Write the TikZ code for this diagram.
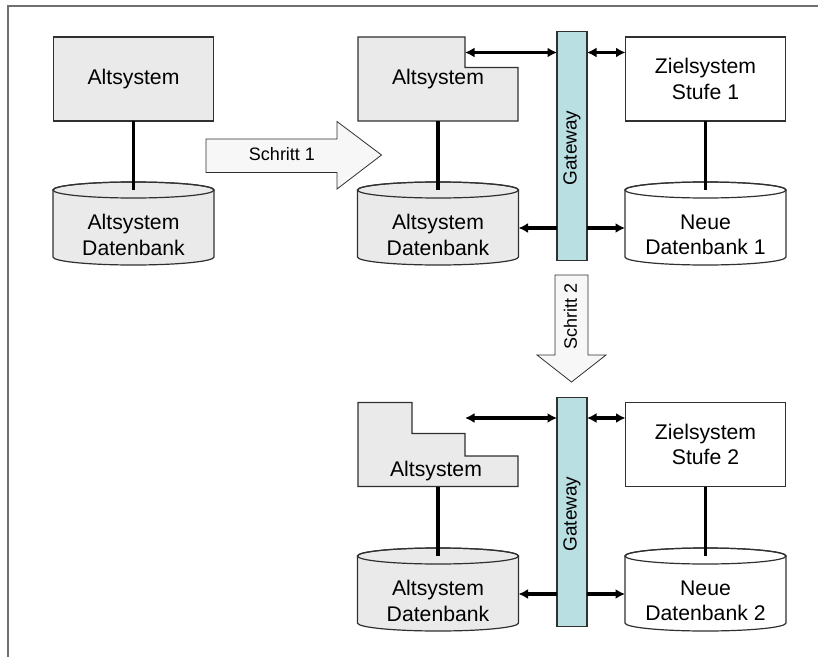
\documentclass[tikz,border=0pt]{standalone}
\usepackage{fontspec}
\setmainfont{Liberation Sans}
\usetikzlibrary{arrows.meta}

\definecolor{legacy}{HTML}{EAEAEA}
\definecolor{gatefill}{HTML}{B9DFE2}
\definecolor{stepfill}{HTML}{F7F7F7}
\definecolor{edge}{HTML}{303030}
\definecolor{framegray}{HTML}{707070}

\newcommand{\diagfont}{\fontsize{21.2bp}{25.5bp}\selectfont}
\newcommand{\stepfont}{\fontsize{18bp}{21bp}\selectfont}
\newcommand{\gatefont}{\fontsize{19bp}{22bp}\selectfont}

% database drum: name, centre x, top y, fill, text
\newcommand{\drum}[5]{%
  \filldraw[drumline, fill=#4]
    ({#2-80.5},{#3+8}) -- ({#2-80.5},{#3+75})
    arc[start angle=180, end angle=0, x radius=80.5, y radius=8]
    -- ({#2+80.5},{#3+8})
    arc[start angle=0, end angle=-180, x radius=80.5, y radius=8] -- cycle;
  \draw[drumline] ({#2},{#3+8}) ellipse[x radius=80.5, y radius=8];
  \coordinate (#1-top) at ({#2},{#3+8});
  \node[drumtext] (#1) at ({#2},{#3+53}) {#5};
}

\tikzset{
  sysbox/.style={draw=edge, line width=1.2bp, minimum width=160bp, minimum height=84bp,
    inner sep=0pt, outer sep=0pt, align=center, font=\diagfont},
  shapebox/.style={minimum width=160bp, minimum height=84bp, inner sep=0pt, outer sep=0pt},
  drumline/.style={draw=edge, line width=1.2bp},
  drumtext/.style={minimum width=161bp, minimum height=58bp, inner sep=0pt, outer sep=0pt,
    align=center, font=\diagfont},
  gatebox/.style={draw=edge, line width=1.2bp, fill=gatefill, minimum width=30bp,
    minimum height=229bp, inner sep=0pt, outer sep=0pt},
  stepshape/.style={draw=edge, line width=0.8bp, fill=stepfill},
  link/.style={line width=3.2bp},
  both/.style={line width=3.2bp, {Latex[length=9.5bp,width=10bp]}-{Latex[length=9.5bp,width=10bp]}},
  toward/.style={line width=3.2bp, -{Latex[length=9.5bp,width=10bp]}},
}

\begin{document}
\begin{tikzpicture}[x=1bp, y=-1bp]
\useasboundingbox (0,0) rectangle (818,657);

% outer frame
\draw[framegray, line width=2bp] (7.5,657) -- (7.5,6.5) -- (818,6.5);

% ---------- initial situation ----------
\node[sysbox, fill=legacy] (old0) at (133.5,79) {Altsystem};
\drum{olddb0}{133.5}{182}{legacy}{Altsystem\\Datenbank}
\draw[link] (old0.south) -- (olddb0-top);

% step 1 arrow
\filldraw[stepshape] (206,139) -- (337,139) -- (337,121.5) -- (381.5,155)
  -- (337,189) -- (337,172.5) -- (206,172.5) -- cycle;
\node[font=\stepfont] (step1) at (282,154.5) {Schritt 1};

% ---------- stage 1 ----------
\node[shapebox] (old1) at (438,79) {};
\filldraw[drumline, fill=legacy] (old1.north west) -- ++(107,0) -- ++(0,30.5)
  -- ++(53,0) -- (old1.south east) -- (old1.south west) -- cycle;
\node[font=\diagfont] (old1text) at (old1) {Altsystem};
\drum{olddb1}{438}{182}{legacy}{Altsystem\\Datenbank}
\draw[link] (old1.south) -- (olddb1-top);

\node[gatebox] (gw1) at (572,146) {};
\node[rotate=90, font=\gatefont] (gw1text) at ([yshift=-2bp]gw1) {Gateway};

\node[sysbox, fill=white] (new1) at (705.5,79) {Zielsystem\\Stufe 1};
\drum{newdb1}{705.5}{182}{white}{Neue\\Datenbank 1}
\draw[link] (new1.south) -- (newdb1-top);

\coordinate (notch1) at (465,52.5);
\draw[both] (notch1) -- (gw1.west |- notch1);
\draw[both] (gw1.east |- notch1) -- (new1.west |- notch1);
\coordinate (olddb1port) at ([yshift=7bp]olddb1.east);
\coordinate (newdb1port) at ([yshift=7bp]newdb1.west);
\draw[toward] (gw1.west |- olddb1port) -- (olddb1port);
\draw[toward] (gw1.east |- newdb1port) -- (newdb1port);

% step 2 arrow
\filldraw[stepshape] (555,275) -- (588,275) -- (588,355) -- (606,355)
  -- (571.5,382) -- (537,355) -- (555,355) -- cycle;
\node[rotate=90, font=\stepfont] (step2) at (570.5,316.5) {Schritt 2};

% ---------- stage 2 ----------
\node[shapebox] (old2) at (438,444.5) {};
\filldraw[drumline, fill=legacy] (old2.north west) -- ++(54,0) -- ++(0,31)
  -- ++(53,0) -- ++(0,22.4) -- ++(53,0) -- (old2.south east)
  -- (old2.south west) -- cycle;
\node[font=\diagfont] (old2text) at ([xshift=-2bp, yshift=15.4bp]old2.south) {Altsystem};
\drum{olddb2}{438}{548}{legacy}{Altsystem\\Datenbank}
\draw[link] (old2.south) -- (olddb2-top);

\node[gatebox] (gw2) at (572,512) {};
\node[rotate=90, font=\gatefont] (gw2text) at ([yshift=-2bp]gw2) {Gateway};

\node[sysbox, fill=white] (new2) at (705.5,444.5) {Zielsystem\\Stufe 2};
\drum{newdb2}{705.5}{548}{white}{Neue\\Datenbank 2}
\draw[link] (new2.south) -- (newdb2-top);

\coordinate (notch2) at (465,418);
\draw[both] (notch2) -- (gw2.west |- notch2);
\draw[both] (gw2.east |- notch2) -- (new2.west |- notch2);
\coordinate (olddb2port) at ([yshift=7bp]olddb2.east);
\coordinate (newdb2port) at ([yshift=7bp]newdb2.west);
\draw[toward] (gw2.west |- olddb2port) -- (olddb2port);
\draw[toward] (gw2.east |- newdb2port) -- (newdb2port);
\end{tikzpicture}
\end{document}
